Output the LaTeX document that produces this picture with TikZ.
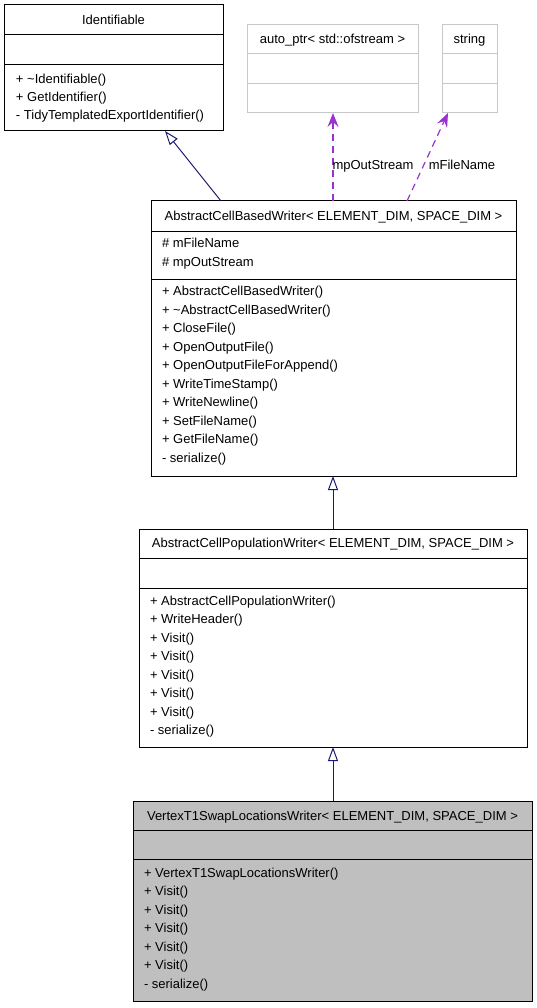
\documentclass[tikz,border=0pt]{standalone}
\usepackage{fontspec}
\setmainfont{Liberation Sans}
\usetikzlibrary{arrows.meta}
\definecolor{edgeblue}{HTML}{191970}
\definecolor{usepurple}{HTML}{9A32CD}
\definecolor{boxgray}{HTML}{BFBFBF}
\definecolor{lightline}{HTML}{C8C8C8}
\begin{document}
\begin{tikzpicture}[x=1pt,y=-1pt,
  every node/.style={font=\fontsize{13}{16}\selectfont, inner sep=0pt, outer sep=0pt},
  lbl/.style={anchor=base west},
  ttl/.style={anchor=base},
  cls/.style={draw=black, line width=1pt, anchor=north west},
  greycls/.style={draw=lightline, line width=1pt, anchor=north west},
  sepline/.style={line width=1pt},
  inherit/.style={edgeblue, line width=1pt, -{Triangle[open, length=14pt, width=10pt]}},
  uses/.style={usepurple, line width=1.2pt, dash pattern=on 7pt off 5pt, -{Stealth[length=14pt, width=11pt, inset=5pt]}},
  elbl/.style={anchor=base}
]
\useasboundingbox (0,0) rectangle (537,1008);

% Identifiable
\node[cls, minimum width=219pt, minimum height=126pt] (ident) at (4,5) {};
\draw[sepline] (ident.west |- 0,35) -- (ident.east |- 0,35);
\draw[sepline] (ident.west |- 0,65) -- (ident.east |- 0,65);
\node[ttl] (identT) at (113.5,24.5) {Identifiable};
\node[lbl] (identM1) at (16,84) {+ \textasciitilde Identifiable()};
\node[lbl] (identM2) at (16,102) {+ GetIdentifier()};
\node[lbl] (identM3) at (16,120) {- TidyTemplatedExportIdentifier()};

% auto_ptr
\node[greycls, minimum width=171pt, minimum height=88pt] (autoptr) at (247,25) {};
\draw[lightline, sepline] (autoptr.west |- 0,54) -- (autoptr.east |- 0,54);
\draw[lightline, sepline] (autoptr.west |- 0,84) -- (autoptr.east |- 0,84);
\node[ttl] (autoptrT) at (332.5,44) {auto\_ptr< std::ofstream >};

% string
\node[greycls, minimum width=55pt, minimum height=88pt] (string) at (442,25) {};
\draw[lightline, sepline] (string.west |- 0,54) -- (string.east |- 0,54);
\draw[lightline, sepline] (string.west |- 0,84) -- (string.east |- 0,84);
\node[ttl] (stringT) at (469.5,44) {string};

% AbstractCellBasedWriter
\node[cls, minimum width=365pt, minimum height=275pt] (acbw) at (151,201) {};
\draw[sepline] (acbw.west |- 0,232) -- (acbw.east |- 0,232);
\draw[sepline] (acbw.west |- 0,279) -- (acbw.east |- 0,279);
\node[ttl] (acbwT) at (333.5,220.5) {AbstractCellBasedWriter< ELEMENT\_DIM, SPACE\_DIM >};
\node[lbl] (acbwA1) at (162,247.5) {\# mFileName};
\node[lbl] (acbwA2) at (162,266.5) {\# mpOutStream};
\node[lbl] (acbwM1) at (162,295.5) {+ AbstractCellBasedWriter()};
\node[lbl] (acbwM2) at (162,314) {+ \textasciitilde AbstractCellBasedWriter()};
\node[lbl] (acbwM3) at (162,332.5) {+ CloseFile()};
\node[lbl] (acbwM4) at (162,351) {+ OpenOutputFile()};
\node[lbl] (acbwM5) at (162,369.5) {+ OpenOutputFileForAppend()};
\node[lbl] (acbwM6) at (162,388) {+ WriteTimeStamp()};
\node[lbl] (acbwM7) at (162,406.5) {+ WriteNewline()};
\node[lbl] (acbwM8) at (162,425) {+ SetFileName()};
\node[lbl] (acbwM9) at (162,443.5) {+ GetFileName()};
\node[lbl] (acbwM10) at (162,462) {- serialize()};

% AbstractCellPopulationWriter
\node[cls, minimum width=388pt, minimum height=218pt] (acpw) at (139,529) {};
\draw[sepline] (acpw.west |- 0,558) -- (acpw.east |- 0,558);
\draw[sepline] (acpw.west |- 0,588) -- (acpw.east |- 0,588);
\node[ttl] (acpwT) at (333,547.5) {AbstractCellPopulationWriter< ELEMENT\_DIM, SPACE\_DIM >};
\node[lbl] (acpwM1) at (150,605) {+ AbstractCellPopulationWriter()};
\node[lbl] (acpwM2) at (150,623.5) {+ WriteHeader()};
\node[lbl] (acpwM3) at (150,642) {+ Visit()};
\node[lbl] (acpwM4) at (150,660.5) {+ Visit()};
\node[lbl] (acpwM5) at (150,679) {+ Visit()};
\node[lbl] (acpwM6) at (150,697.5) {+ Visit()};
\node[lbl] (acpwM7) at (150,716) {+ Visit()};
\node[lbl] (acpwM8) at (150,734.5) {- serialize()};

% VertexT1SwapLocationsWriter
\node[cls, fill=boxgray, minimum width=399pt, minimum height=200pt] (vt1) at (133,801) {};
\draw[sepline] (vt1.west |- 0,830) -- (vt1.east |- 0,830);
\draw[sepline] (vt1.west |- 0,859) -- (vt1.east |- 0,859);
\node[ttl] (vt1T) at (332.5,820) {VertexT1SwapLocationsWriter< ELEMENT\_DIM, SPACE\_DIM >};
\node[lbl] (vt1M1) at (144,877) {+ VertexT1SwapLocationsWriter()};
\node[lbl] (vt1M2) at (144,895.5) {+ Visit()};
\node[lbl] (vt1M3) at (144,914) {+ Visit()};
\node[lbl] (vt1M4) at (144,932.5) {+ Visit()};
\node[lbl] (vt1M5) at (144,951) {+ Visit()};
\node[lbl] (vt1M6) at (144,969.5) {+ Visit()};
\node[lbl] (vt1M7) at (144,988) {- serialize()};

% connectors
\draw[inherit] (acbw.north -| 221,0) -- (ident.south -| 165,0);
\draw[inherit] (acpw.north -| 333,0) -- (acbw.south -| 333,0);
\draw[inherit] (vt1.north -| 333,0) -- (acpw.south -| 333,0);
\draw[uses] (acbw.north -| 333,0) -- (autoptr.south -| 333,0);
\draw[uses] (acbw.north -| 407,0) -- (string.south -| 448,0);
\node[elbl] (lblOut) at (373,169.5) {mpOutStream};
\node[elbl] (lblFile) at (462,169.5) {mFileName};
\end{tikzpicture}
\end{document}
